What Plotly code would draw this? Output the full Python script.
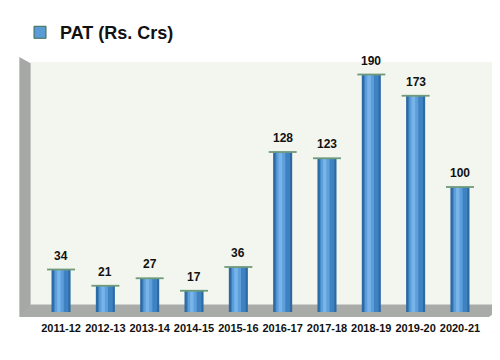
import plotly.graph_objects as go

years = ["2011-12", "2012-13", "2013-14", "2014-15", "2015-16",
         "2016-17", "2017-18", "2018-19", "2019-20", "2020-21"]
pat = [34, 21, 27, 17, 36, 128, 123, 190, 173, 100]
series_name = "PAT (Rs. Crs)"

fig = go.Figure()
# cylinder body: dark outer, lighter inner layers
fig.add_trace(go.Bar(x=years, y=pat, width=0.43, name=series_name,
                     marker=dict(color="#2d6aa3", line=dict(width=0)),
                     showlegend=False))
fig.add_trace(go.Bar(x=years, y=pat, width=0.33, marker=dict(color="#3f82c2", line=dict(width=0)),
                     showlegend=False, hoverinfo="skip"))
fig.add_trace(go.Bar(x=years, y=pat, width=0.2, offset=-0.14,
                     marker=dict(color="#5e9fdb", line=dict(width=0)),
                     showlegend=False, hoverinfo="skip"))
fig.add_trace(go.Bar(x=years, y=pat, width=0.08, offset=-0.09,
                     marker=dict(color="#76b4ea", line=dict(width=0)),
                     showlegend=False, hoverinfo="skip"))
# top cap rim
fig.add_trace(go.Scatter(x=years, y=pat, mode="markers", showlegend=False, hoverinfo="skip",
                         marker=dict(symbol="line-ew", size=20, line=dict(color="#6f9a7a", width=1.8))))
# legend entry (light blue swatch, as in the original)
fig.add_trace(go.Bar(x=years, y=[None] * len(years), name=f"<b>{series_name}</b>",
                     marker=dict(color="#5b9bd5", line=dict(color="#3e6b50", width=1)),
                     showlegend=True, hoverinfo="skip"))

for yr, v in zip(years, pat):
    fig.add_annotation(x=yr, y=v, text=f"<b>{v}</b>", showarrow=False, yanchor="bottom",
                       yshift=5, font=dict(family="Liberation Sans", size=12, color="#111111"))

shapes = [
    # back wall
    dict(type="rect", xref="paper", yref="paper", x0=0.012, x1=1.0, y0=0.0, y1=1.0,
         fillcolor="#f3f6ef", line=dict(width=0), layer="below"),
    # left side wall
    dict(type="path", xref="paper", yref="paper",
         path="M -0.012,1.02 L 0.012,0.995 L 0.012,0.0 L -0.012,-0.02 Z",
         fillcolor="#a6a8a6", line=dict(width=0), layer="below"),
    # floor
    dict(type="path", xref="paper", yref="paper",
         path="M 0.012,0.03 L 1.0,0.03 L 1.0,-0.0 L 0.985,-0.02 L -0.012,-0.02 Z",
         fillcolor="#a9aba9", line=dict(width=0), layer="below"),
]

fig.update_layout(
    width=492, height=352,
    margin=dict(l=17, r=4, t=54, b=48, autoexpand=False),
    paper_bgcolor="white", plot_bgcolor="rgba(0,0,0,0)",
    barmode="overlay",
    shapes=shapes,
    showlegend=True,
    legend=dict(x=0.0244, y=0.9827, xref="container", yref="container", xanchor="left", yanchor="top",
                font=dict(family="Liberation Sans", size=18, color="#111111"),
                bgcolor="rgba(0,0,0,0)", itemwidth=30),
    font=dict(family="Liberation Sans"),
    xaxis=dict(type="category", showgrid=False, showline=False, ticks="",
               tickvals=years, ticktext=[f"<b>{y}</b>" for y in years],
               ticklabelstandoff=8,
               tickfont=dict(family="Liberation Sans", size=11, color="#111111")),
    yaxis=dict(range=[0, 200], visible=False),
)

fig.write_html("out.html")
